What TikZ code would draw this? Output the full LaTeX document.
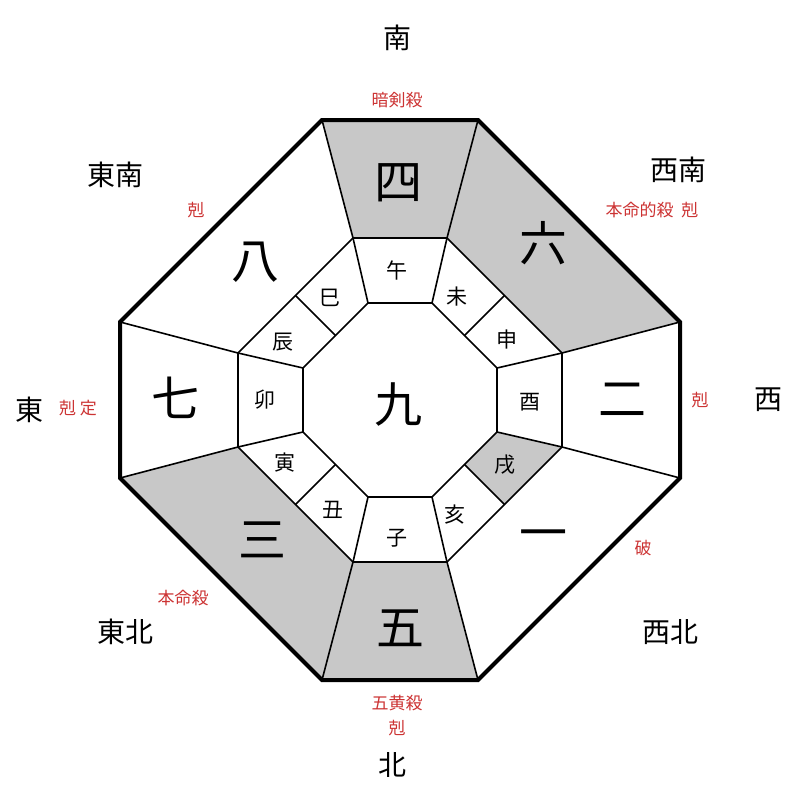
\documentclass[tikz,border=0pt]{standalone}
\usepackage{fontspec}
\newfontfamily\jpfont{Noto Sans CJK JP}
\definecolor{kyogray}{HTML}{C8C8C8}
\definecolor{kyored}{HTML}{CC3333}
\tikzset{
  dirlabel/.style={font=\jpfont\fontsize{28}{28}\selectfont},
  redlabel/.style={font=\jpfont\fontsize{17}{17}\selectfont,text=kyored},
  numlabel/.style={font=\jpfont\fontsize{48}{48}\selectfont},
  cell/.style={font=\jpfont\fontsize{21}{21}\selectfont},
}
\begin{document}
\begin{tikzpicture}[x=1pt,y=-1pt]
\useasboundingbox (0,0) rectangle (800,800);
\begin{scope}[shift={(400,400)}]
% octagons: outer, middle, inner
\foreach \n/\x/\y in {1/-78/-280,2/78/-280,3/280/-78,4/280/78,5/78/280,6/-78/280,7/-280/78,8/-280/-78}
  \coordinate (o\n) at (\x,\y);
\foreach \n/\x/\y in {1/-47/-162,2/47/-162,3/162/-47,4/162/47,5/47/162,6/-47/162,7/-162/47,8/-162/-47}
  \coordinate (m\n) at (\x,\y);
\foreach \n/\x/\y in {1/-32/-97,2/32/-97,3/97/-32,4/97/32,5/32/97,6/-32/97,7/-97/32,8/-97/-32}
  \coordinate (i\n) at (\x,\y);
% midpoints of the diagonal edges
\foreach \n/\sx/\sy in {23/1/-1,45/1/1,67/-1/1,81/-1/-1}{
  \coordinate (mm\n) at (104.5*\sx,104.5*\sy);
  \coordinate (ii\n) at (64.5*\sx,64.5*\sy);
}
% gray sectors
\fill[kyogray] (o1) -- (o2) -- (m2) -- (m1) -- cycle;
\fill[kyogray] (o2) -- (o3) -- (m3) -- (m2) -- cycle;
\fill[kyogray] (o5) -- (o6) -- (m6) -- (m5) -- cycle;
\fill[kyogray] (o6) -- (o7) -- (m7) -- (m6) -- cycle;
\fill[kyogray] (i4) -- (m4) -- (mm45) -- (ii45) -- cycle;
% lines
\draw[line width=1.6pt] (m1) -- (m2) -- (m3) -- (m4) -- (m5) -- (m6) -- (m7) -- (m8) -- cycle;
\draw[line width=1.6pt] (i1) -- (i2) -- (i3) -- (i4) -- (i5) -- (i6) -- (i7) -- (i8) -- cycle;
\foreach \n in {1,...,8}
  \draw[line width=1.6pt] (o\n) -- (m\n) -- (i\n);
\foreach \n in {23,45,67,81}
  \draw[line width=1.6pt] (mm\n) -- (ii\n);
\draw[line width=4pt,line join=miter] (o1) -- (o2) -- (o3) -- (o4) -- (o5) -- (o6) -- (o7) -- (o8) -- cycle;
\end{scope}
% nine stars
\node[numlabel] (n9) at (398,405) {九};
\node[numlabel] (n4) at (398,183) {四};
\node[numlabel] (n6) at (543,243) {六};
\node[numlabel] (n2) at (622,400) {二};
\node[numlabel] (n1) at (543,540) {一};
\node[numlabel] (n5) at (400,628) {五};
\node[numlabel] (n3) at (262,540) {三};
\node[numlabel] (n7) at (175,398) {七};
\node[numlabel] (n8) at (255,262) {八};
% twelve branches
\foreach \t/\x/\y in {午/397/270,未/457/297,申/507/340,酉/530/402,戌/505/465,亥/455/515,
  子/397/538,丑/333/510,寅/285/463,卯/265/400,辰/283/342,巳/330/298}
  \node[cell] (b\t) at (\x,\y) {\t};
% directions
\node[dirlabel] (south) at (397,38) {南};
\node[dirlabel] (southwest) at (678,170) {西南};
\node[dirlabel] (west) at (768,400) {西};
\node[dirlabel] (northwest) at (670,632) {西北};
\node[dirlabel] (north) at (392,765) {北};
\node[dirlabel] (northeast) at (125,632) {東北};
\node[dirlabel] (east) at (30,410) {東};
\node[dirlabel] (southeast) at (115,175) {東南};
% red marks
\node[redlabel] (ankensatsu) at (397,100) {暗剣殺};
\node[redlabel] (honmeiteki) at (652,210) {本命的殺\ \ 剋};
\node[redlabel] (kokuW) at (700,400) {剋};
\node[redlabel] (ha) at (643,548) {破};
\node[redlabel] (gooh) at (397,703) {五黄殺};
\node[redlabel] (kokuN) at (397,728) {剋};
\node[redlabel] (honmei) at (183,598) {本命殺};
\node[redlabel] (kokuE) at (78,408) {剋 定};
\node[redlabel] (kokuSE) at (196,210) {剋};
\end{tikzpicture}
\end{document}
